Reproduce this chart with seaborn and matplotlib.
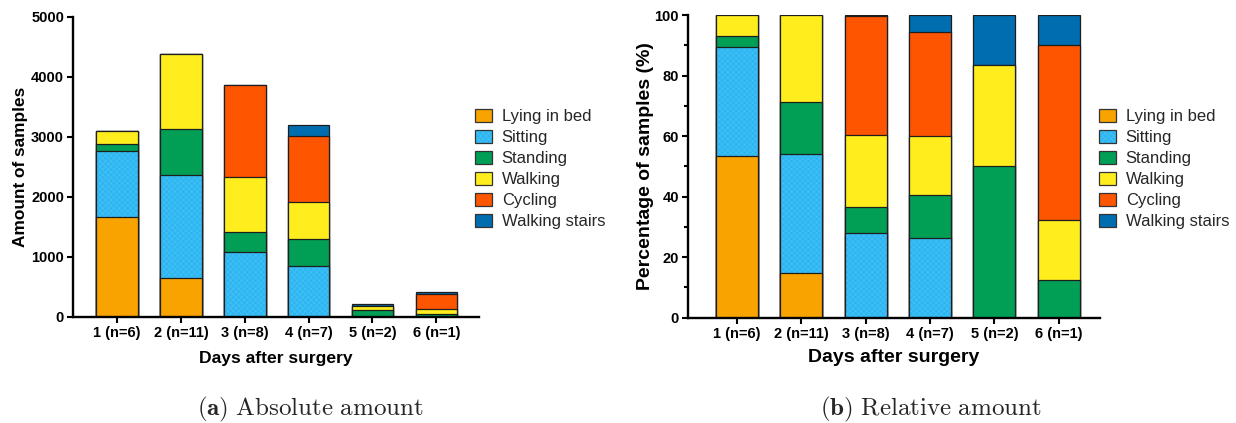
import pandas as pd
import matplotlib
matplotlib.use("Agg")
import matplotlib.pyplot as plt
from matplotlib.patches import Patch
from matplotlib.colors import to_rgba
from matplotlib.ticker import MultipleLocator
import seaborn as sns

days = ["1 (n=6)", "2 (n=11)", "3 (n=8)", "4 (n=7)", "5 (n=2)", "6 (n=1)"]
activities = ["Lying in bed", "Sitting", "Standing", "Walking", "Cycling", "Walking stairs"]
colors = ["#F8A300", "#2DB7F2", "#009F55", "#FFED1E", "#FD5500", "#006DB0"]

lying = [1660, 650, 0, 0, 0, 0]
sitting = [1110, 1715, 1085, 845, 0, 0]
standing = [110, 760, 325, 450, 105, 52]
walking = [220, 1255, 925, 625, 70, 83]
cycling = [0, 0, 1520, 1090, 0, 243]
stairs = [0, 0, 15, 180, 35, 42]

counts = pd.DataFrame(
    {"Lying in bed": lying, "Sitting": sitting, "Standing": standing,
     "Walking": walking, "Cycling": cycling, "Walking stairs": stairs},
    index=days)
percent = counts.div(counts.sum(axis=1), axis=0) * 100

sns.set_style("ticks")
plt.rcParams["font.family"] = ["Liberation Sans", "DejaVu Sans"]
plt.rcParams["mathtext.fontset"] = "cm"
plt.rcParams["hatch.linewidth"] = 0.4

fig = plt.figure(figsize=(12.36, 4.23), dpi=100)
ax1 = fig.add_axes([0.0591, 0.2513, 0.3285, 0.7092])
ax2 = fig.add_axes([0.5566, 0.2489, 0.3333, 0.7156])

hatch_col = to_rgba("#4cc2f5")


def stacked(ax, df):
    cum = df.cumsum(axis=1)
    for act, col in reversed(list(zip(activities, colors))):
        n0 = len(ax.patches)
        sns.barplot(x=cum.index, y=cum[act].values, color=col, ax=ax,
                    width=0.65, edgecolor="#1e1e1e", linewidth=0.9,
                    errorbar=None, saturation=1)
        if act == "Sitting":
            # fine texture on the sitting layer
            for p in ax.patches[n0:]:
                p.set_hatch("xxxxxx")
                p._hatch_color = hatch_col


stacked(ax1, counts)
stacked(ax2, percent)

ax1.set_ylim(0, 5000)
ax1.set_yticks([0, 1000, 2000, 3000, 4000, 5000])
ax1.set_xlim(-0.69, 5.67)
ax1.set_ylabel("Amount of samples", fontsize=12.4, fontweight="bold",
               color="black", labelpad=2)
ax1.set_xlabel("Days after surgery", fontsize=12.6, fontweight="bold",
               color="black", labelpad=8)

ax2.set_ylim(0, 100)
ax2.set_yticks([0, 20, 40, 60, 80, 100])
ax2.yaxis.set_minor_locator(MultipleLocator(10))
ax2.set_xlim(-0.76, 5.64)
ax2.set_ylabel("Percentage of samples (%)", fontsize=14, fontweight="bold",
               color="black", labelpad=0)
ax2.set_xlabel("Days after surgery", fontsize=14, fontweight="bold",
               color="black", labelpad=6)

for ax in (ax1, ax2):
    sns.despine(ax=ax)
    for s in ("left", "bottom"):
        ax.spines[s].set_linewidth(1.7)
        ax.spines[s].set_color("black")
    ax.tick_params(axis="both", which="major", length=4.5, width=1.5,
                   colors="black", labelsize=10.5, pad=2)
    ax.tick_params(axis="y", which="minor", length=3, width=1.5, colors="black")
    for lab in ax.get_xticklabels() + ax.get_yticklabels():
        lab.set_fontweight("bold")

handles = []
for a, c in zip(activities, colors):
    h = Patch(facecolor=c, edgecolor="#333333", linewidth=0.9, label=a)
    if a == "Sitting":
        h.set_hatch("xxxxxx")
        h._hatch_color = hatch_col
    handles.append(h)

for x in (0.3843, 0.8892):
    fig.legend(handles=handles, loc="center left", bbox_to_anchor=(x, 0.5995),
               frameon=False, fontsize=12, handlelength=1.0, handleheight=0.75,
               handletextpad=0.6, labelspacing=0.36, borderpad=0, borderaxespad=0)

fig.text(0.2508, 0.031, r"$\mathbf{(a)}\ \mathrm{Absolute\ amount}$",
         ha="center", va="center", fontsize=18)
fig.text(0.753, 0.031, r"$\mathbf{(b)}\ \mathrm{Relative\ amount}$",
         ha="center", va="center", fontsize=18)

fig.savefig("out.png", dpi=100)
